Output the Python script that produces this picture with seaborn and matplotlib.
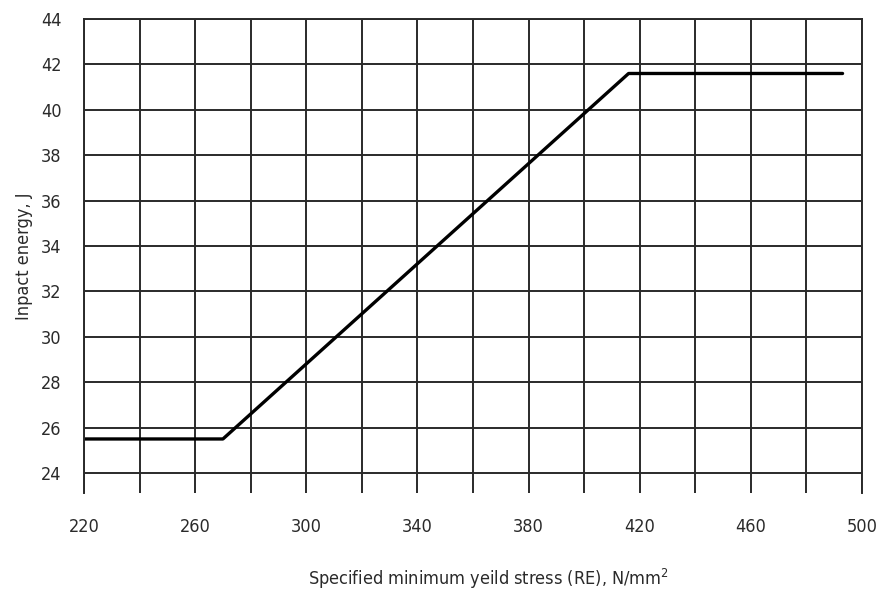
import numpy as np
import pandas as pd
import seaborn as sns
from matplotlib import pyplot as plt
from matplotlib.ticker import MultipleLocator

# values
yield_stress = [220, 270, 416, 493]
impact_energy = [25.5, 25.5, 41.6, 41.6]
x_ticks = [220, 260, 300, 340, 380, 420, 460, 500]
y_ticks = [24, 26, 28, 30, 32, 34, 36, 38, 40, 42, 44]

df = pd.DataFrame({'stress': yield_stress, 'energy': impact_energy})

sns.set_style('white')
plt.rcParams['font.family'] = ['DejaVu Sans']
plt.rcParams['font.stretch'] = 'condensed'

ink = '#2a2a2a'

fig = plt.figure(figsize=(8.78, 5.92), dpi=100)
ax = fig.add_axes([84 / 878, 1 - 493 / 592, 778 / 878, 474 / 592])

sns.lineplot(data=df, x='stress', y='energy', color='black', linewidth=2.4, ax=ax)

ax.set_xlim(220, 500)
ax.set_ylim(23.12, 44)
ax.set_xticks(x_ticks)
ax.xaxis.set_minor_locator(MultipleLocator(20))
ax.set_yticks(y_ticks)

ax.grid(True, which='both', axis='x', color=ink, linewidth=1.4)
ax.grid(True, which='major', axis='y', color=ink, linewidth=1.4)
ax.set_axisbelow(True)

for side in ['left', 'right', 'top']:
    ax.spines[side].set_color(ink)
    ax.spines[side].set_linewidth(1.4)
ax.spines['bottom'].set_visible(False)

ax.tick_params(axis='x', which='major', direction='out', length=10, width=1.4,
               color=ink, labelsize=13, labelcolor=ink, pad=8)
ax.tick_params(axis='x', which='minor', length=0)
ax.tick_params(axis='y', direction='out', length=12, width=1.4,
               color=ink, labelsize=13, labelcolor=ink, pad=4)
ax.yaxis.get_major_ticks()[-1].tick1line.set_visible(False)

ax.set_xlabel('Specified minimum yeild stress (RE), N/mm$^2$', fontsize=13, color=ink)
ax.set_ylabel('Inpact energy, J', fontsize=13, color=ink)
ax.xaxis.set_label_coords(0.52, -0.155)
ax.yaxis.set_label_coords(-0.066, 0.5)

plt.savefig('out.png', dpi=100)
